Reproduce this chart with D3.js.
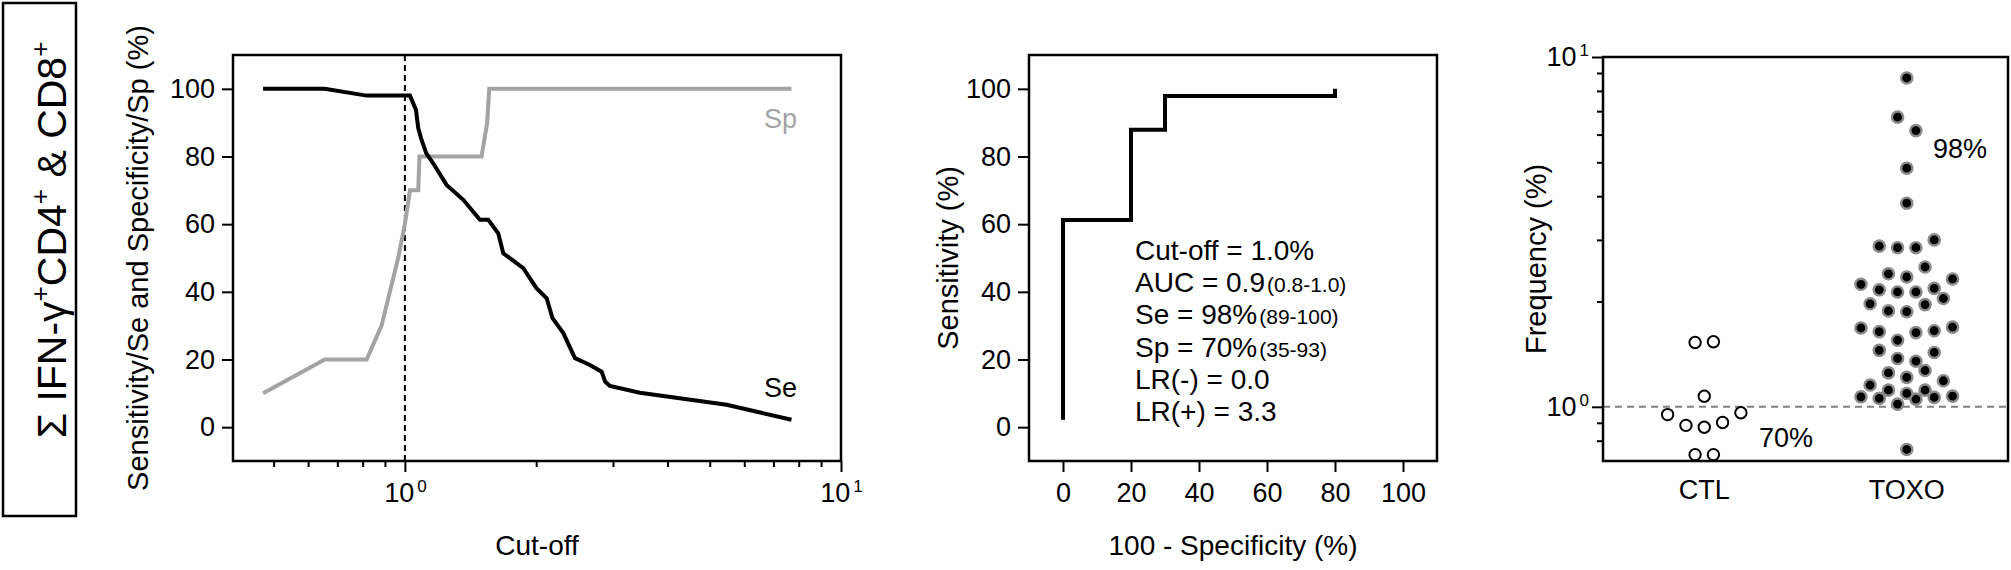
<!DOCTYPE html>
<meta charset="utf-8">
<html>
  <head>
    <script src="https://cdn.jsdelivr.net/npm/d3@7"></script>
    <style>
      body { margin: 0; background: white; }
      svg text { font-family: "Liberation Sans", Arial, sans-serif; fill: black; }
    </style>
  </head>
  <body>
    <svg id="fig" width="2011" height="570"></svg>
    <script>
      // Se / Sp against cut-off
      const seCut = [0.473, 0.655, 0.817, 1.027, 1.06, 1.073, 1.092, 1.119, 1.161, 1.246, 1.361, 1.486, 1.553, 1.637, 1.681, 1.868, 2.003, 2.114, 2.18, 2.308, 2.455, 2.656, 2.826, 2.878, 2.952, 3.457, 5.467, 7.70];
      const seVal = [100, 100, 98, 98, 93.8, 88.4, 84.9, 81, 78, 71.6, 67.2, 61.3, 61.3, 57.3, 51.4, 47, 41.1, 38.1, 32.2, 27.8, 20.4, 18.4, 16.4, 13.5, 12.2, 10.2, 6.6, 2.2];
      const spCut = [0.473, 0.655, 0.817, 0.884, 0.965, 1.0, 1.027, 1.073, 1.08, 1.499, 1.544, 1.561, 7.70];
      const spVal = [10, 20, 20, 30, 50, 60, 70, 70, 80, 80, 90, 100, 100];
      const cutOff = 1.0;

      // ROC curve
      const rocFpr = [0, 0, 20, 20, 30, 30, 80, 80];
      const rocTpr = [2.2, 61.2, 61.2, 87.9, 87.9, 97.9, 97.9, 100];
      const rocStats = [
        ["Cut-off = 1.0%", ""],
        ["AUC = 0.9", "(0.8-1.0)"],
        ["Se = 98%", "(89-100)"],
        ["Sp = 70%", "(35-93)"],
        ["LR(-) = 0.0", ""],
        ["LR(+) = 3.3", ""]
      ];

      // scatter frequencies (%)
      const groups = ["CTL", "TOXO"];
      const ctlFreq = [1.535, 1.527, 1.072, 0.950, 0.962, 0.885, 0.874, 0.902, 0.730, 0.730];
      const toxoFreq = [8.71, 6.73, 6.16, 4.81, 3.82, 3.00, 2.88, 2.85, 2.85, 2.51, 2.35, 2.40, 2.32, 2.24, 2.16, 2.13, 2.13, 2.18, 2.04, 1.97, 1.88, 1.87, 1.96, 1.68, 1.64, 1.55, 1.63, 1.65, 1.69, 1.45, 1.375, 1.35, 1.43, 1.25, 1.154, 1.187, 1.214, 1.27, 1.073, 1.064, 1.116, 1.052, 1.092, 1.018, 1.116, 1.057, 1.068, 0.755];
      const groupPct = ["70%", "98%"];

      const svg = d3.select("#fig");
      const grey = "#a3a3a3";
      const tickFont = 27;

      function styleAxis(g) {
        g.select(".domain").remove();
        g.selectAll(".tick line").attr("stroke", "black").attr("stroke-width", 2);
        g.selectAll(".tick text").attr("font-size", tickFont).attr("fill", "black")
          .style("font-family", '"Liberation Sans", Arial, sans-serif');
      }

      function powerLabel(sel) {
        sel.each(function (d) {
          const t = d3.select(this);
          const e = Math.round(Math.log10(d));
          t.text(null);
          t.append("tspan").text("10");
          t.append("tspan").attr("font-size", 17).attr("dy", -10).attr("dx", 3).text(e);
        });
      }

      function frame(x0, y0, x1, y1) {
        svg.append("rect").attr("x", x0).attr("y", y0).attr("width", x1 - x0).attr("height", y1 - y0)
          .attr("fill", "none").attr("stroke", "black").attr("stroke-width", 2.5);
      }

      // ---- row label box
      svg.append("rect").attr("x", 3).attr("y", 3).attr("width", 73).attr("height", 513)
        .attr("fill", "none").attr("stroke", "black").attr("stroke-width", 2.5);
      const rowLab = svg.append("text").attr("transform", "translate(66,240) rotate(-90)")
        .attr("text-anchor", "middle").attr("font-size", 41);
      rowLab.append("tspan").text("\u03A3 IFN-\u03B3");
      rowLab.append("tspan").attr("font-size", 26).attr("dy", -17).text("+");
      rowLab.append("tspan").attr("dy", 17).text("CD4");
      rowLab.append("tspan").attr("font-size", 26).attr("dy", -17).text("+");
      rowLab.append("tspan").attr("dy", 17).text(" & CD8");
      rowLab.append("tspan").attr("font-size", 26).attr("dy", -17).text("+");

      // ---- panel 1: Se/Sp vs cut-off
      const p1 = {left: 233, right: 841, top: 55, bottom: 461};
      const x1 = d3.scaleLog().domain([0.4035, 10]).range([p1.left, p1.right]);
      const y1 = d3.scaleLinear().domain([-10, 110]).range([p1.bottom, p1.top]);

      const minor1 = [0.5, 0.6, 0.7, 0.8, 0.9, 2, 3, 4, 5, 6, 7, 8, 9];
      svg.append("g").attr("transform", `translate(0,${p1.bottom})`)
        .call(d3.axisBottom(x1).tickValues(minor1).tickSize(6).tickFormat(""))
        .call(styleAxis);
      const xa1 = svg.append("g").attr("transform", `translate(0,${p1.bottom})`)
        .call(d3.axisBottom(x1).tickValues([1, 10]).tickSize(11))
        .call(styleAxis);
      xa1.selectAll(".tick text").attr("y", 41).attr("dy", null).call(powerLabel);

      svg.append("g").attr("transform", `translate(${p1.left},0)`)
        .call(d3.axisLeft(y1).tickValues([0, 20, 40, 60, 80, 100]).tickSize(11).tickPadding(7))
        .call(styleAxis);

      svg.append("line").attr("x1", x1(cutOff)).attr("x2", x1(cutOff))
        .attr("y1", p1.top).attr("y2", p1.bottom)
        .attr("stroke", "black").attr("stroke-width", 2).attr("stroke-dasharray", "6,4");

      const line1 = d3.line().x((d) => x1(d[0])).y((d) => y1(d[1]));
      svg.append("path").datum(d3.zip(spCut, spVal)).attr("d", line1)
        .attr("fill", "none").attr("stroke", grey).attr("stroke-width", 4);
      svg.append("path").datum(d3.zip(seCut, seVal)).attr("d", line1)
        .attr("fill", "none").attr("stroke", "black").attr("stroke-width", 4);
      frame(p1.left, p1.top, p1.right, p1.bottom);

      svg.append("text").attr("x", 797).attr("y", 128).attr("text-anchor", "end")
        .attr("font-size", 27).style("fill", grey).text("Sp");
      svg.append("text").attr("x", 797).attr("y", 397).attr("text-anchor", "end")
        .attr("font-size", 27).text("Se");

      svg.append("text").attr("transform", `translate(148,${(p1.top + p1.bottom) / 2}) rotate(-90)`)
        .attr("text-anchor", "middle").attr("font-size", 29)
        .text("Sensitivity/Se and Specificity/Sp (%)");
      svg.append("text").attr("x", (p1.left + p1.right) / 2).attr("y", 555)
        .attr("text-anchor", "middle").attr("font-size", 28).text("Cut-off");

      // ---- panel 2: ROC
      const p2 = {left: 1029, right: 1437, top: 55, bottom: 461};
      const x2 = d3.scaleLinear().domain([-10, 110]).range([p2.left, p2.right]);
      const y2 = d3.scaleLinear().domain([-10, 110]).range([p2.bottom, p2.top]);

      const xa2 = svg.append("g").attr("transform", `translate(0,${p2.bottom})`)
        .call(d3.axisBottom(x2).tickValues([0, 20, 40, 60, 80, 100]).tickSize(11))
        .call(styleAxis);
      xa2.selectAll(".tick text").attr("y", 41).attr("dy", null);
      svg.append("g").attr("transform", `translate(${p2.left},0)`)
        .call(d3.axisLeft(y2).tickValues([0, 20, 40, 60, 80, 100]).tickSize(11).tickPadding(7))
        .call(styleAxis);

      svg.append("path").datum(d3.zip(rocFpr, rocTpr))
        .attr("d", d3.line().x((d) => x2(d[0])).y((d) => y2(d[1])))
        .attr("fill", "none").attr("stroke", "black").attr("stroke-width", 4)
        .attr("stroke-linejoin", "miter");
      frame(p2.left, p2.top, p2.right, p2.bottom);

      rocStats.forEach(function (s, i) {
        const t = svg.append("text").attr("x", 1135).attr("y", 260 + i * 32.2).attr("font-size", 28);
        t.append("tspan").text(s[0]);
        if (s[1]) t.append("tspan").attr("font-size", 21).attr("dx", 2).text(s[1]);
      });

      svg.append("text").attr("transform", `translate(958,${(p2.top + p2.bottom) / 2}) rotate(-90)`)
        .attr("text-anchor", "middle").attr("font-size", 29).text("Sensitivity (%)");
      svg.append("text").attr("x", (p2.left + p2.right) / 2).attr("y", 555)
        .attr("text-anchor", "middle").attr("font-size", 28).text("100 - Specificity (%)");

      // ---- panel 3: scatter
      const p3 = {left: 1603, right: 2008, top: 57, bottom: 461};
      const x3 = d3.scalePoint().domain(groups).range([p3.left, p3.right]).padding(0.5);
      const y3 = d3.scaleLog().domain([0.7, 10]).range([p3.bottom, p3.top]);

      svg.append("g").attr("transform", `translate(${p3.left},0)`)
        .call(d3.axisLeft(y3).tickValues([0.8, 0.9, 2, 3, 4, 5, 6, 7, 8, 9]).tickSize(6).tickFormat(""))
        .call(styleAxis);
      const ya3 = svg.append("g").attr("transform", `translate(${p3.left},0)`)
        .call(d3.axisLeft(y3).tickValues([1, 10]).tickSize(11).tickPadding(3))
        .call(styleAxis);
      ya3.selectAll(".tick text").call(powerLabel);

      svg.append("line").attr("x1", p3.left).attr("x2", p3.right)
        .attr("y1", y3(cutOff)).attr("y2", y3(cutOff))
        .attr("stroke", "#808080").attr("stroke-width", 2).attr("stroke-dasharray", "7,5");

      // Prism-like column scatter: group points into rows (bottom-up),
      // then spread each row from the centre outwards, alternating sides
      const unit = 9.16;
      function swarm(values, rowHeight, maxPerRow) {
        const pts = values.map((v) => ({v: v, y: y3(v), c: 0}))
          .sort((a, b) => a.v - b.v);
        let i = 0, row = 0;
        while (i < pts.length) {
          let j = i + 1;
          while (j < pts.length && j - i < maxPerRow && pts[i].y - pts[j].y <= rowHeight) j++;
          const n = j - i;
          const side = row % 2 === 0 ? 1 : -1;
          for (let k = 0; k < n; k++) {
            let c;
            if (n % 2 === 1) {
              c = k === 0 ? 0 : 2 * Math.ceil(k / 2) * (k % 2 === 1 ? -1 : 1);
            } else {
              c = (2 * Math.floor(k / 2) + 1) * (k % 2 === 0 ? side : -side);
            }
            pts[i + k].c = c;
          }
          i = j;
          row++;
        }
        return pts;
      }

      const ctlPts = swarm(ctlFreq, 14.6, 6);
      const toxoPts = swarm(toxoFreq, 14.6, 6);

      svg.append("g").selectAll("circle").data(ctlPts).join("circle")
        .attr("cx", (d) => x3("CTL") + d.c * unit).attr("cy", (d) => d.y).attr("r", 5.7)
        .attr("fill", "white").attr("stroke", "black").attr("stroke-width", 2);
      svg.append("g").selectAll("circle").data(toxoPts).join("circle")
        .attr("cx", (d) => x3("TOXO") + d.c * unit).attr("cy", (d) => d.y).attr("r", 5.6)
        .attr("fill", "black").attr("stroke", "#8a8a8a").attr("stroke-width", 2.4);
      frame(p3.left, p3.top, p3.right, p3.bottom);

      svg.append("text").attr("x", 1759).attr("y", 447).attr("font-size", 27).text(groupPct[0]);
      svg.append("text").attr("x", 1933).attr("y", 158).attr("font-size", 27).text(groupPct[1]);

      groups.forEach(function (g) {
        svg.append("text").attr("x", x3(g)).attr("y", 499).attr("text-anchor", "middle")
          .attr("font-size", 27).text(g);
      });
      svg.append("text").attr("transform", `translate(1546,${(p3.top + p3.bottom) / 2}) rotate(-90)`)
        .attr("text-anchor", "middle").attr("font-size", 29).text("Frequency (%)");
    </script>
  </body>
</html>
